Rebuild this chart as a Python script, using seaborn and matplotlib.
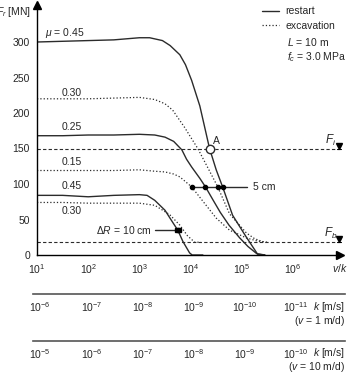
import numpy as np
import pandas as pd
import matplotlib
matplotlib.use('Agg')
import matplotlib.pyplot as plt
import seaborn as sns

# curves: log10(v/k) and F_r [MN]
r045_lg = [1.0, 1.5, 2.0, 2.5, 3.0, 3.2, 3.45, 3.6, 3.79, 3.9, 4.02, 4.18, 4.37, 4.5, 4.63, 4.82, 5.09, 5.31, 5.45]
r045_F = [300, 301, 302, 303, 306, 306, 302, 295, 282, 268, 246, 210, 150, 120, 95, 56, 25, 1, 0]
r025_lg = [1.0, 1.5, 2.0, 2.5, 3.0, 3.3, 3.5, 3.67, 3.83, 3.92, 4.02, 4.18, 4.29, 4.45, 4.58, 4.75, 4.96, 5.12, 5.29, 5.45]
r025_F = [168, 168, 169, 169, 170, 169, 166, 160, 148, 135, 124, 108, 96, 76, 60, 42, 24, 12, 2, 0]
r045b_lg = [1.0, 1.5, 2.0, 2.5, 3.0, 3.15, 3.3, 3.5, 3.65, 3.75, 3.85, 3.98, 4.03, 4.24]
r045b_F = [84, 84, 82, 84, 85, 84, 77, 63, 46, 35, 19, 3, 0, 0]
e030_lg = [1.0, 1.5, 2.0, 2.5, 3.0, 3.3, 3.5, 3.65, 3.88, 4.14, 4.35, 4.53, 4.76, 5.09, 5.25, 5.4, 5.5]
e030_F = [220, 220, 220, 221, 222, 219, 213, 204, 180, 150, 121, 96, 58, 31, 23, 19, 18]
e015_lg = [1.0, 1.5, 2.0, 2.5, 3.0, 3.3, 3.5, 3.67, 3.79, 4.02, 4.27, 4.5, 4.76, 5.09, 5.29, 5.45]
e015_F = [119, 119, 119, 119, 120, 118, 117, 114, 110, 96, 73, 52, 35, 24, 20, 18]
e030b_lg = [1.0, 1.5, 2.0, 2.5, 3.0, 3.3, 3.59, 3.79, 3.94, 4.08, 4.2]
e030b_F = [74, 74, 73, 73, 73, 70, 57, 42, 27, 18, 18]

F_i = 150
F_b = 18
pt_A = (4.37, 150)
dots_5cm = [4.02, 4.29, 4.53, 4.63]
F_5cm = 96
dots_10cm = [3.73, 3.77]
F_10cm = 35

x_ticks = [1, 2, 3, 4, 5, 6]
y_ticks = [0, 50, 100, 150, 200, 250, 300]
k1_ticks = [-6, -7, -8, -9, -10, -11]
k2_ticks = [-5, -6, -7, -8, -9, -10]

sns.set_style('white')
plt.rcParams['font.family'] = ['Liberation Sans', 'DejaVu Sans']
plt.rcParams['mathtext.fontset'] = 'custom'
plt.rcParams['mathtext.rm'] = 'Liberation Sans'
plt.rcParams['mathtext.it'] = 'Liberation Sans:italic'
plt.rcParams['mathtext.bf'] = 'Liberation Sans:bold'

fs = 7.5
col = '#2b2b2b'
W, H = 348, 372
fig = plt.figure(figsize=(W / 100, H / 100), dpi=100)


def px_axes(x0, y0, x1, y1):
    return fig.add_axes([x0 / W, 1 - y1 / H, (x1 - x0) / W, (y1 - y0) / H])


ax = px_axes(37, 5, 340, 255)

curves = [
    (r045_lg, r045_F, '-', 'restart'),
    (r025_lg, r025_F, '-', None),
    (r045b_lg, r045b_F, '-', None),
    (e030_lg, e030_F, ':', 'excavation'),
    (e015_lg, e015_F, ':', None),
    (e030b_lg, e030b_F, ':', None),
]
handles = {}
for lg, F, ls, lab in curves:
    df = pd.DataFrame({'vk': 10 ** np.array(lg), 'F': F})
    sns.lineplot(data=df, x='vk', y='F', ax=ax, sort=False, estimator=None,
                 color=col, linestyle=ls, lw=1.0 if ls == '-' else 0.9)
    if lab:
        handles[lab] = ax.lines[-1]

ax.set_xscale('log')
ax.set_xlim(10, 10 ** (1 + 303 / 51.2))
ax.set_ylim(0, 250 / 0.71)

# reference levels
for lev, name in [(F_i, 'F_i'), (F_b, 'F_b')]:
    ax.axhline(lev, color=col, ls=(0, (3, 2)), lw=0.8)
    ax.plot([10 ** 6.9], [lev + 4], marker='v', color='k', ms=5, clip_on=False)
    ax.plot([10 ** 6.86, 10 ** 6.94], [lev, lev], color='k', lw=0.8, clip_on=False)
    ax.text(10 ** 6.74, lev + 12, '$%s$' % name, fontsize=fs + 1, ha='center', va='center')

# point A
ax.plot([10 ** pt_A[0]], [pt_A[1]], marker='o', mfc='white', mec=col, ms=6, zorder=5)
ax.text(10 ** 4.51, 160, 'A', fontsize=fs, ha='center', va='center')

# 5 cm
ax.plot([10 ** dots_5cm[0], 10 ** 5.1], [F_5cm, F_5cm], color=col, lw=1.0)
ax.plot(10 ** np.array(dots_5cm), [F_5cm] * len(dots_5cm), 'o', color='k', ms=3)
ax.text(10 ** 5.22, F_5cm, '5 cm', fontsize=fs, va='center')

# 10 cm
ax.plot([10 ** 3.3, 10 ** dots_10cm[1]], [F_10cm, F_10cm], color=col, lw=1.0)
ax.plot(10 ** np.array(dots_10cm), [F_10cm] * 2, 's', color='k', ms=3.5)
ax.text(10 ** 3.25, F_10cm, r'$\mathit{\Delta R}$ = 10 cm', fontsize=fs, ha='right', va='center')

# curve labels
for x, y, s in [(1.16, 313, r'$\mu$ = 0.45'), (1.49, 228, '0.30'), (1.49, 180, '0.25'),
                (1.49, 131, '0.15'), (1.49, 97, '0.45'), (1.49, 62, '0.30')]:
    ax.text(10 ** x, y, s, fontsize=fs, va='center')

# legend
leg = ax.legend([handles['restart'], handles['excavation']], ['restart', 'excavation'],
                loc='upper left', bbox_to_anchor=(0.743, 0.995), frameon=False, fontsize=fs,
                handlelength=1.6, handletextpad=0.6, labelspacing=0.45, borderpad=0, borderaxespad=0)
ax.text(0.825, 0.852, '$L$ = 10 m', transform=ax.transAxes, fontsize=fs, va='center')
ax.text(0.825, 0.792, '$f_c$ = 3.0 MPa', transform=ax.transAxes, fontsize=fs, va='center')

# axes styling
for s in ['top', 'right']:
    ax.spines[s].set_visible(False)
for s in ['left', 'bottom']:
    ax.spines[s].set_color('k')
    ax.spines[s].set_linewidth(1.0)
ax.plot(1, 0, '>', color='k', ms=6, transform=ax.transAxes, clip_on=False)
ax.plot(0, 1, '^', color='k', ms=6, transform=ax.transAxes, clip_on=False)
ax.set_xticks([10.0 ** t for t in x_ticks])
ax.set_xticklabels(['$10^{%d}$' % t for t in x_ticks])
ax.minorticks_off()
ax.set_yticks(y_ticks)
ax.tick_params(direction='out', length=3, width=0.8, labelsize=fs, pad=2, color='k')
ax.set_xlabel('')
ax.set_ylabel('')
ax.text(0.975, -0.052, '$v/k$', transform=ax.transAxes, fontsize=fs, va='center')
ax.text(-0.02, 0.972, '$F_r$ [MN]', transform=ax.transAxes, fontsize=fs, ha='right', va='center')

# permeability axes
for y0, v_md, ticks in [(294, 1, k1_ticks), (341, 10, k2_ticks)]:
    v = v_md / 86400.0
    kx = px_axes(33, y0 - 10, 345, y0)
    kx.set_xscale('log')
    kx.set_xlim(v / 10 ** 0.922, v / 10 ** 7.016)
    kx.set_yticks([])
    for s in ['top', 'right', 'left']:
        kx.spines[s].set_visible(False)
    kx.spines['bottom'].set_color('#555555')
    kx.spines['bottom'].set_linewidth(1.2)
    kx.patch.set_alpha(0)
    kx.set_xticks([10.0 ** t for t in ticks])
    kx.set_xticklabels(['$10^{%d}$' % t for t in ticks])
    kx.minorticks_off()
    kx.tick_params(direction='out', length=3, width=0.8, labelsize=fs, pad=1.5, color='#555555')
    kx.text(1.0, -1.25, '$k$ [m/s]', transform=kx.transAxes, fontsize=fs, ha='right', va='center')
    kx.text(1.0, -2.65, '($v$ = %d m/d)' % v_md, transform=kx.transAxes, fontsize=fs, ha='right', va='center')

plt.savefig('out.png', dpi=100)
